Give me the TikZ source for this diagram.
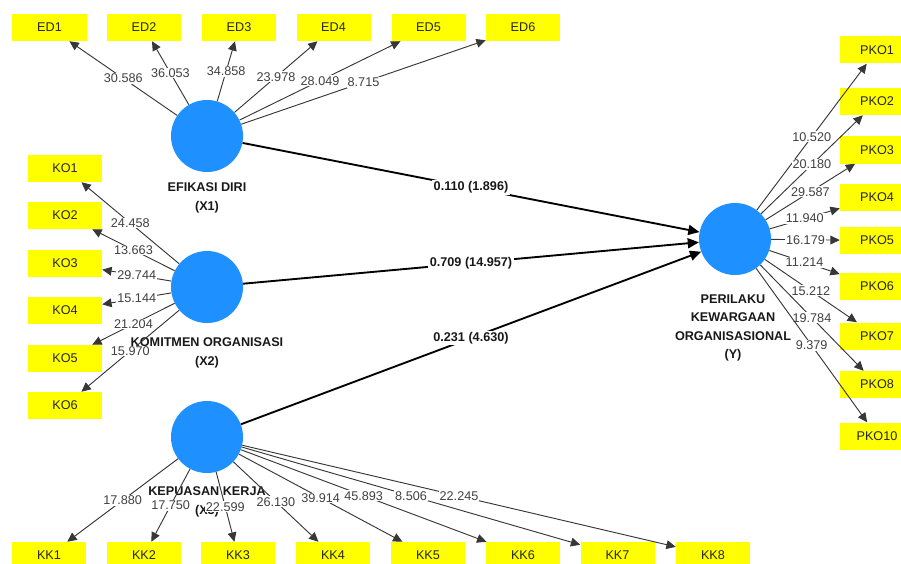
\documentclass[tikz,border=0pt]{standalone}
\usepackage{fontspec}
\setmainfont{Liberation Sans}
\usetikzlibrary{arrows.meta}

\definecolor{plsblue}{RGB}{30,144,255}
\definecolor{plsyellow}{RGB}{255,255,0}
\definecolor{loadgray}{RGB}{55,55,55}

\tikzset{
  indicator/.style={fill=plsyellow, minimum width=2.22cm, minimum height=0.81cm, inner sep=0pt, text=black!85, font=\fontsize{10.8}{13}\selectfont},
  latent/.style={circle, fill=plsblue, minimum size=2.16cm, inner sep=0pt},
  latentlabel/.style={align=center, text=black!90, font=\fontsize{10.8}{15.8}\selectfont\bfseries},
  loading/.style={draw=loadgray, line width=0.8pt, -{Triangle[length=8pt,width=7.5pt]}},
  loadval/.style={fill=white, inner sep=0.8pt, text=black!75, font=\fontsize{10.8}{13}\selectfont},
  structural/.style={draw=black, line width=1.6pt, -{Triangle[length=9.5pt,width=8.5pt]}},
  coef/.style={fill=white, inner sep=1.2pt, text=black!90, font=\fontsize{10.8}{13}\selectfont\bfseries}
}

\begin{document}
\begin{tikzpicture}[x=0.03cm, y=-0.03cm]
        \useasboundingbox (0,0) rectangle (901,564);

        % Draw the latent variables
        \node[latent] (X1) at (207,136) {};
        \node[latent] (X2) at (207,287) {};
        \node[latent] (X3) at (207,437) {};
        \node[latent] (Y) at (735,239) {};

        % Add latent labels
        \node[latentlabel] (X1lab) at (207,198) {EFIKASI DIRI\\(X1)};
        \node[latentlabel] (X2lab) at (207,353) {KOMITMEN ORGANISASI\\(X2)};
        \node[latentlabel] (X3lab) at (207,502) {KEPUASAN KERJA\\(X3)};
        \node[latentlabel] (Ylab) at (733,328) {PERILAKU\\KEWARGAAN\\ORGANISASIONAL\\(Y)};

        % Draw the indicators of X1
        \node[indicator] (ED1) at (49.5,27.5) {ED1};
        \node[indicator] (ED2) at (144,27.5) {ED2};
        \node[indicator] (ED3) at (239,27.5) {ED3};
        \node[indicator] (ED4) at (333.5,27.5) {ED4};
        \node[indicator] (ED5) at (428.5,27.5) {ED5};
        \node[indicator] (ED6) at (523,27.5) {ED6};

        % Draw the indicators of X2
        \node[indicator] (KO1) at (65,168.5) {KO1};
        \node[indicator] (KO2) at (65,215.5) {KO2};
        \node[indicator] (KO3) at (65,263.5) {KO3};
        \node[indicator] (KO4) at (65,310.5) {KO4};
        \node[indicator] (KO5) at (65,358.5) {KO5};
        \node[indicator] (KO6) at (65,405.5) {KO6};

        % Draw the indicators of X3
        \node[indicator] (KK1) at (49,555.5) {KK1};
        \node[indicator] (KK2) at (144,555.5) {KK2};
        \node[indicator] (KK3) at (238,555.5) {KK3};
        \node[indicator] (KK4) at (333,555.5) {KK4};
        \node[indicator] (KK5) at (428,555.5) {KK5};
        \node[indicator] (KK6) at (523,555.5) {KK6};
        \node[indicator] (KK7) at (617.5,555.5) {KK7};
        \node[indicator] (KK8) at (713,555.5) {KK8};

        % Draw the indicators of Y
        \node[indicator] (PKO1) at (877,50) {PKO1};
        \node[indicator] (PKO2) at (877,101.5) {PKO2};
        \node[indicator] (PKO3) at (877,150) {PKO3};
        \node[indicator] (PKO4) at (877,197.5) {PKO4};
        \node[indicator] (PKO5) at (877,240.5) {PKO5};
        \node[indicator] (PKO6) at (877,286.5) {PKO6};
        \node[indicator] (PKO7) at (877,336) {PKO7};
        \node[indicator] (PKO8) at (877,384.5) {PKO8};
        \node[indicator] (PKO10) at (877,436) {PKO10};

        % Draw outer loadings of X1
        \draw[loading] (X1) -- node[loadval] {30.586} (ED1);
        \draw[loading] (X1) -- node[loadval] {36.053} (ED2);
        \draw[loading] (X1) -- node[loadval] {34.858} (ED3);
        \draw[loading] (X1) -- node[loadval] {23.978} (ED4);
        \draw[loading] (X1) -- node[loadval] {28.049} (ED5);
        \draw[loading] (X1) -- node[loadval] {8.715} (ED6);

        % Draw outer loadings of X2
        \draw[loading] (X2) -- node[loadval] {24.458} (KO1);
        \draw[loading] (X2) -- node[loadval] {13.663} (KO2);
        \draw[loading] (X2) -- node[loadval] {29.744} (KO3);
        \draw[loading] (X2) -- node[loadval] {15.144} (KO4);
        \draw[loading] (X2) -- node[loadval] {21.204} (KO5);
        \draw[loading] (X2) -- node[loadval] {15.970} (KO6);

        % Draw outer loadings of X3
        \draw[loading] (X3) -- node[loadval] {17.880} (KK1);
        \draw[loading] (X3) -- node[loadval] {17.750} (KK2);
        \draw[loading] (X3) -- node[loadval] {22.599} (KK3);
        \draw[loading] (X3) -- node[loadval] {26.130} (KK4);
        \draw[loading] (X3) -- node[loadval] {39.914} (KK5);
        \draw[loading] (X3) -- node[loadval] {45.893} (KK6);
        \draw[loading] (X3) -- node[loadval] {8.506} (KK7);
        \draw[loading] (X3) -- node[loadval] {22.245} (KK8);

        % Draw outer loadings of Y
        \draw[loading] (Y) -- node[loadval] {10.520} (PKO1);
        \draw[loading] (Y) -- node[loadval] {20.180} (PKO2);
        \draw[loading] (Y) -- node[loadval] {29.587} (PKO3);
        \draw[loading] (Y) -- node[loadval] {11.940} (PKO4);
        \draw[loading] (Y) -- node[loadval] {16.179} (PKO5);
        \draw[loading] (Y) -- node[loadval] {11.214} (PKO6);
        \draw[loading] (Y) -- node[loadval] {15.212} (PKO7);
        \draw[loading] (Y) -- node[loadval] {19.784} (PKO8);
        \draw[loading] (Y) -- node[loadval] {9.379} (PKO10);

        % Draw the inner model
        \draw[structural] (X1) -- node[coef] {0.110 (1.896)} (Y);
        \draw[structural] (X2) -- node[coef] {0.709 (14.957)} (Y);
        \draw[structural] (X3) -- node[coef] {0.231 (4.630)} (Y);
    \end{tikzpicture}
\end{document}
